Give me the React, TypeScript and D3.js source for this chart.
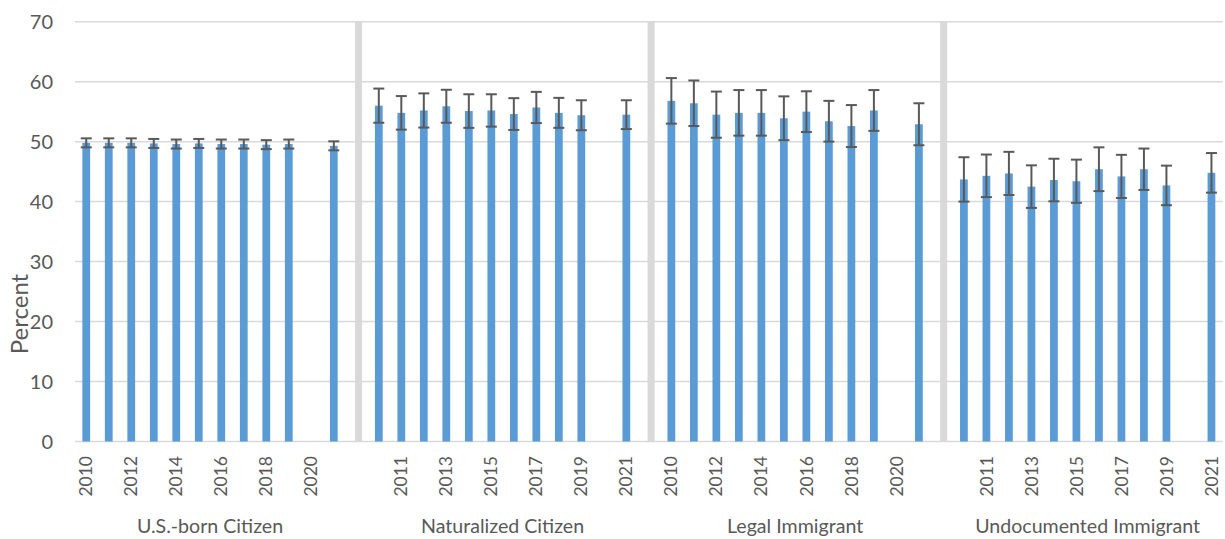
import React from "react";
import * as d3 from "d3";

const groups = ["U.S.-born Citizen", "Naturalized Citizen", "Legal Immigrant", "Undocumented Immigrant"];
const years = [2010, 2011, 2012, 2013, 2014, 2015, 2016, 2017, 2018, 2019, 2020, 2021];

const usBorn = [49.8, 49.8, 49.8, 49.7, 49.6, 49.7, 49.6, 49.6, 49.5, 49.6, null, 49.3];
const usBornMoe = [0.75, 0.75, 0.75, 0.75, 0.75, 0.75, 0.75, 0.75, 0.75, 0.75, null, 0.75];

const naturalized = [56.0, 54.8, 55.2, 55.9, 55.1, 55.2, 54.6, 55.7, 54.8, 54.4, null, 54.5];
const naturalizedMoe = [2.85, 2.8, 2.85, 2.75, 2.8, 2.7, 2.65, 2.6, 2.5, 2.5, null, 2.4];

const legal = [56.8, 56.4, 54.5, 54.8, 54.8, 53.9, 55.0, 53.4, 52.6, 55.2, null, 52.9];
const legalMoe = [3.8, 3.8, 3.85, 3.8, 3.8, 3.65, 3.4, 3.4, 3.5, 3.4, null, 3.5];

const undocumented = [43.7, 44.3, 44.7, 42.5, 43.6, 43.4, 45.4, 44.2, 45.4, 42.7, null, 44.8];
const undocumentedMoe = [3.7, 3.55, 3.6, 3.55, 3.55, 3.6, 3.65, 3.6, 3.45, 3.3, null, 3.3];

const seriesValues = [usBorn, naturalized, legal, undocumented];
const seriesMoe = [usBornMoe, naturalizedMoe, legalMoe, undocumentedMoe];

const yTicks = [0, 10, 20, 30, 40, 50, 60, 70];
const separatorValue = 70;

type Slot = { key: string; kind: "bar" | "sep"; group: number; year?: number; value?: number | null; moe?: number | null };

const slots: Slot[] = [];
groups.forEach((g, gi) => {
  years.forEach((yr, yi) => {
    slots.push({ key: `${gi}-${yr}`, kind: "bar", group: gi, year: yr, value: seriesValues[gi][yi], moe: seriesMoe[gi][yi] });
  });
  if (gi < groups.length - 1) slots.push({ key: `sep-${gi}`, kind: "sep", group: gi });
});

const W = 1225;
const H = 539;
const plotLeft = 75;
const plotRight = 1222.7;
const plotTop = 21.7;
const plotBottom = 441.5;

const FONT = "Lato, 'Open Sans', sans-serif";
const TEXT = "#595959";
const BAR = "#5B9BD5";
const GRID = "#D9D9D9";
const SEP = "#D9D9D9";
const ERR = "#595959";

export default function App() {
  const x = d3
    .scaleBand<string>()
    .domain(slots.map((s) => s.key))
    .range([plotLeft, plotRight])
    .paddingInner(0.655)
    .paddingOuter(0.3275);
  const y = d3.scaleLinear().domain([0, 70]).range([plotBottom, plotTop]);
  const bw = x.bandwidth();
  const sepOffset = 2.6;
  const capW = 11;

  return (
    <svg
      width={W}
      height={H}
      style={{ position: "absolute", left: 0, top: 0, display: "block", background: "#fff" }}
      fontFamily={FONT}
    >
      {yTicks.map((t) => (
        <g key={t}>
          <line x1={plotLeft} x2={plotRight} y1={y(t)} y2={y(t)} stroke={GRID} strokeWidth={1.5} />
          <text x={53} y={y(t)} dy="0.36em" textAnchor="end" fontSize={20} fill={TEXT}>
            {t}
          </text>
        </g>
      ))}
      {slots
        .filter((s) => s.kind === "sep")
        .map((s) => (
          <rect
            key={s.key}
            x={(x(s.key) as number) + sepOffset}
            y={y(separatorValue)}
            width={bw - 0.7}
            height={y(0) - y(separatorValue)}
            fill={SEP}
          />
        ))}
      {slots
        .filter((s) => s.kind === "bar" && s.value != null)
        .map((s) => {
          const cx = (x(s.key) as number) + bw / 2;
          const v = s.value as number;
          const m = s.moe as number;
          return (
            <g key={s.key}>
              <rect x={x(s.key)} y={y(v)} width={bw} height={y(0) - y(v)} fill={BAR} />
              <line x1={cx} x2={cx} y1={y(v + m)} y2={y(v - m)} stroke={ERR} strokeWidth={2} />
              <line x1={cx - capW / 2} x2={cx + capW / 2} y1={y(v + m)} y2={y(v + m)} stroke={ERR} strokeWidth={2} />
              <line x1={cx - capW / 2} x2={cx + capW / 2} y1={y(v - m)} y2={y(v - m)} stroke={ERR} strokeWidth={2} />
            </g>
          );
        })}
      {slots.map((s, i) =>
        i % 2 === 0 && s.kind === "bar" ? (
          <text
            key={`lbl-${s.key}`}
            transform={`translate(${(x(s.key) as number) + bw / 2},456) rotate(-90)`}
            textAnchor="end"
            dy="0.35em"
            fontSize={17.5}
            fill={TEXT}
          >
            {s.year}
          </text>
        ) : null
      )}
      {groups.map((g, gi) => {
        const first = x(`${gi}-${years[0]}`) as number;
        const last = (x(`${gi}-${years[years.length - 1]}`) as number) + bw;
        return (
          <text key={g} x={(first + last) / 2} y={533} textAnchor="middle" fontSize={19.6} fill={TEXT}>
            {g}
          </text>
        );
      })}
      <text transform="translate(28,314) rotate(-90)" textAnchor="middle" fontSize={24} fill={TEXT}>
        Percent
      </text>
    </svg>
  );
}
